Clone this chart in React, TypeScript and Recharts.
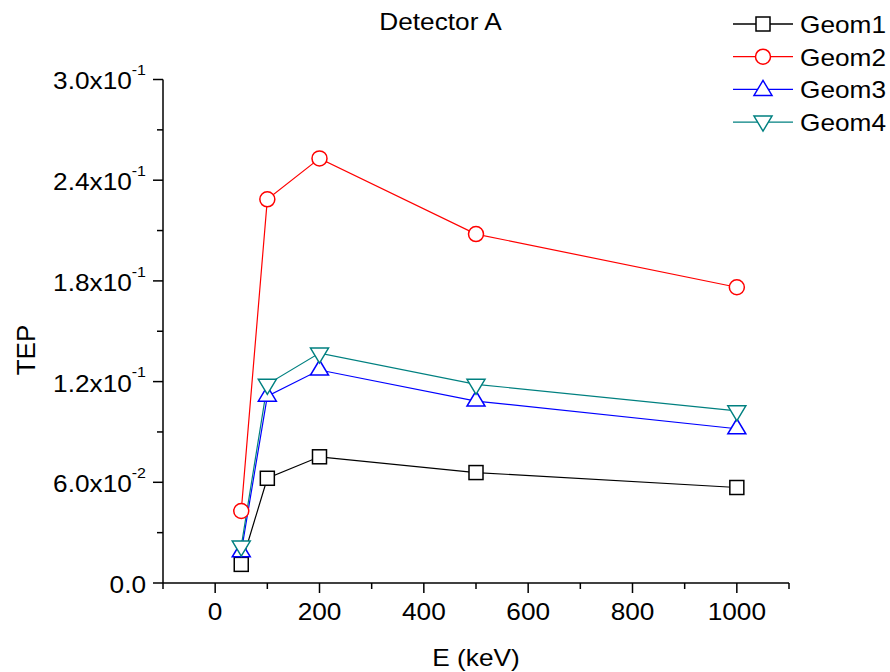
import { LineChart, Line, XAxis, YAxis, Legend } from "recharts";

const energy = [50, 100, 200, 500, 1000];
const geom1 = [0.0111, 0.0624, 0.0752, 0.0658, 0.0569];
const geom2 = [0.0429, 0.2286, 0.253, 0.2079, 0.1762];
const geom3 = [0.0186, 0.1113, 0.1269, 0.1084, 0.0919];
const geom4 = [0.022, 0.1184, 0.137, 0.1184, 0.1026];

const xTicks = [-100, 0, 100, 200, 300, 400, 500, 600, 700, 800, 900, 1000, 1100];
const xLabelled = [0, 200, 400, 600, 800, 1000];
const yTicks = [0, 0.03, 0.06, 0.09, 0.12, 0.15, 0.18, 0.21, 0.24, 0.27, 0.3];
const yMantissa = ["0.0", "6.0", "1.2", "1.8", "2.4", "3.0"];
const yExponent = ["", "-2", "-1", "-1", "-1", "-1"];

const data = energy.map((e, i) => ({
  e,
  geom1: geom1[i],
  geom2: geom2[i],
  geom3: geom3[i],
  geom4: geom4[i],
}));

const FONT = "'Liberation Sans', Arial, sans-serif";
// the original text is a bit wider than Arial, stretch it sideways
const STRETCH = 1.14;

const series = [
  { key: "geom1", name: "Geom1", color: "#000000", shape: "square" },
  { key: "geom2", name: "Geom2", color: "#ff0000", shape: "circle" },
  { key: "geom3", name: "Geom3", color: "#0000ff", shape: "up" },
  { key: "geom4", name: "Geom4", color: "#008080", shape: "down" },
];

function SText({ x, y, anchor, size, children }: any) {
  return (
    <g transform={`translate(${x},${y}) scale(${STRETCH},1)`}>
      <text x={0} y={0} textAnchor={anchor} dominantBaseline="central" fontSize={size} fontFamily={FONT} fill="#000">
        {children}
      </text>
    </g>
  );
}

function Marker({ shape, cx, cy, color }: { shape: string; cx: number; cy: number; color: string }) {
  const common = { fill: "#fff", stroke: color, strokeWidth: 1.5 };
  if (shape === "square") return <rect x={cx - 7} y={cy - 7} width={14} height={14} {...common} />;
  if (shape === "circle") return <circle cx={cx} cy={cy} r={7.5} {...common} />;
  if (shape === "up")
    return <polygon points={`${cx - 9},${cy + 5} ${cx + 9},${cy + 5} ${cx},${cy - 10}`} {...common} />;
  return <polygon points={`${cx - 9},${cy - 5} ${cx + 9},${cy - 5} ${cx},${cy + 10}`} {...common} />;
}

function XTick(props: any) {
  const { x, y, payload } = props;
  const major = xLabelled.includes(payload.value);
  return (
    <g>
      <line x1={x} x2={x} y1={y} y2={y + (major ? 10 : 6)} stroke="#000" strokeWidth={1.5} />
      {major && (
        <SText x={x} y={y + 29} anchor="middle" size={23}>
          {payload.value}
        </SText>
      )}
    </g>
  );
}

function YTick(props: any) {
  const { x, y, index } = props;
  const major = index % 2 === 0;
  const k = index / 2;
  return (
    <g>
      <line x1={x} x2={x - (major ? 10 : 6)} y1={y} y2={y} stroke="#000" strokeWidth={1.5} />
      {major && (
        <SText x={x - 17} y={y + 2} anchor="end" size={23}>
          {yMantissa[k]}
          {yExponent[k] && (
            <>
              x10
              <tspan dy={-12} fontSize={14}>
                {yExponent[k]}
              </tspan>
            </>
          )}
        </SText>
      )}
    </g>
  );
}

function LegendBox(props: any) {
  const { payload } = props;
  return (
    <svg width={165} height={135}>
      {(payload || []).map((p: any, i: number) => {
        const s = series.find((d) => d.key === p.dataKey) || series[i];
        const cy = 18 + i * 32.7;
        return (
          <g key={s.key}>
            <line x1={5} x2={65} y1={cy} y2={cy} stroke={s.color} strokeWidth={1.3} />
            <Marker shape={s.shape} cx={35} cy={s.shape === "up" ? cy + 1 : s.shape === "down" ? cy - 1 : cy} color={s.color} />
            <SText x={72} y={cy + 1} anchor="start" size={23}>
              {s.name}
            </SText>
          </g>
        );
      })}
    </svg>
  );
}

export default function App() {
  return (
    <div style={{ position: "absolute", left: 0, top: 0, width: 890, height: 672, background: "#fff" }}>
      <div
        style={{
          position: "absolute",
          left: 0,
          width: 881,
          top: 8,
          textAlign: "center",
          fontFamily: FONT,
          fontSize: 23,
          lineHeight: "28px",
          color: "#000",
          transform: `scaleX(${STRETCH})`,
          zIndex: 2,
        }}
      >
        Detector A
      </div>
      <LineChart width={890} height={672} data={data} margin={{ top: 79.5, right: 101, left: 13, bottom: 29 }}>
        <XAxis
          dataKey="e"
          type="number"
          domain={[-100, 1100]}
          ticks={xTicks}
          interval={0}
          height={60}
          tickSize={0}
          tickMargin={0}
          tickLine={false}
          tick={<XTick />}
          axisLine={{ stroke: "#000", strokeWidth: 1.5 }}
          label={{
            content: ({ viewBox }: any) => (
              <SText x={viewBox.x + viewBox.width / 2} y={viewBox.y + 75} anchor="middle" size={23}>
                E (keV)
              </SText>
            ),
          }}
        />
        <YAxis
          type="number"
          domain={[0, 0.3]}
          ticks={yTicks}
          interval={0}
          width={150}
          tickSize={0}
          tickMargin={0}
          tickLine={false}
          tick={<YTick />}
          axisLine={{ stroke: "#000", strokeWidth: 1.5 }}
          label={{
            content: ({ viewBox }: any) => (
              <text
                x={viewBox.x + 13}
                y={350}
                textAnchor="middle"
                dominantBaseline="central"
                fontSize={26}
                fontFamily={FONT}
                fill="#000"
                transform={`rotate(-90, ${viewBox.x + 13}, 350)`}
              >
                TEP
              </text>
            ),
          }}
        />
        <Legend
          layout="horizontal"
          verticalAlign="middle"
          align="center"
          content={<LegendBox />}
          wrapperStyle={{ position: "absolute", left: 728, top: 6, width: 165, height: 135 }}
        />
        {series.map((s) => (
          <Line
            key={s.key}
            dataKey={s.key}
            name={s.name}
            stroke={s.color}
            strokeWidth={1.2}
            isAnimationActive={false}
            dot={(p: any) => <Marker key={`${s.key}-${p.index}`} shape={s.shape} cx={p.cx} cy={p.cy} color={s.color} />}
            activeDot={false}
          />
        ))}
      </LineChart>
    </div>
  );
}
